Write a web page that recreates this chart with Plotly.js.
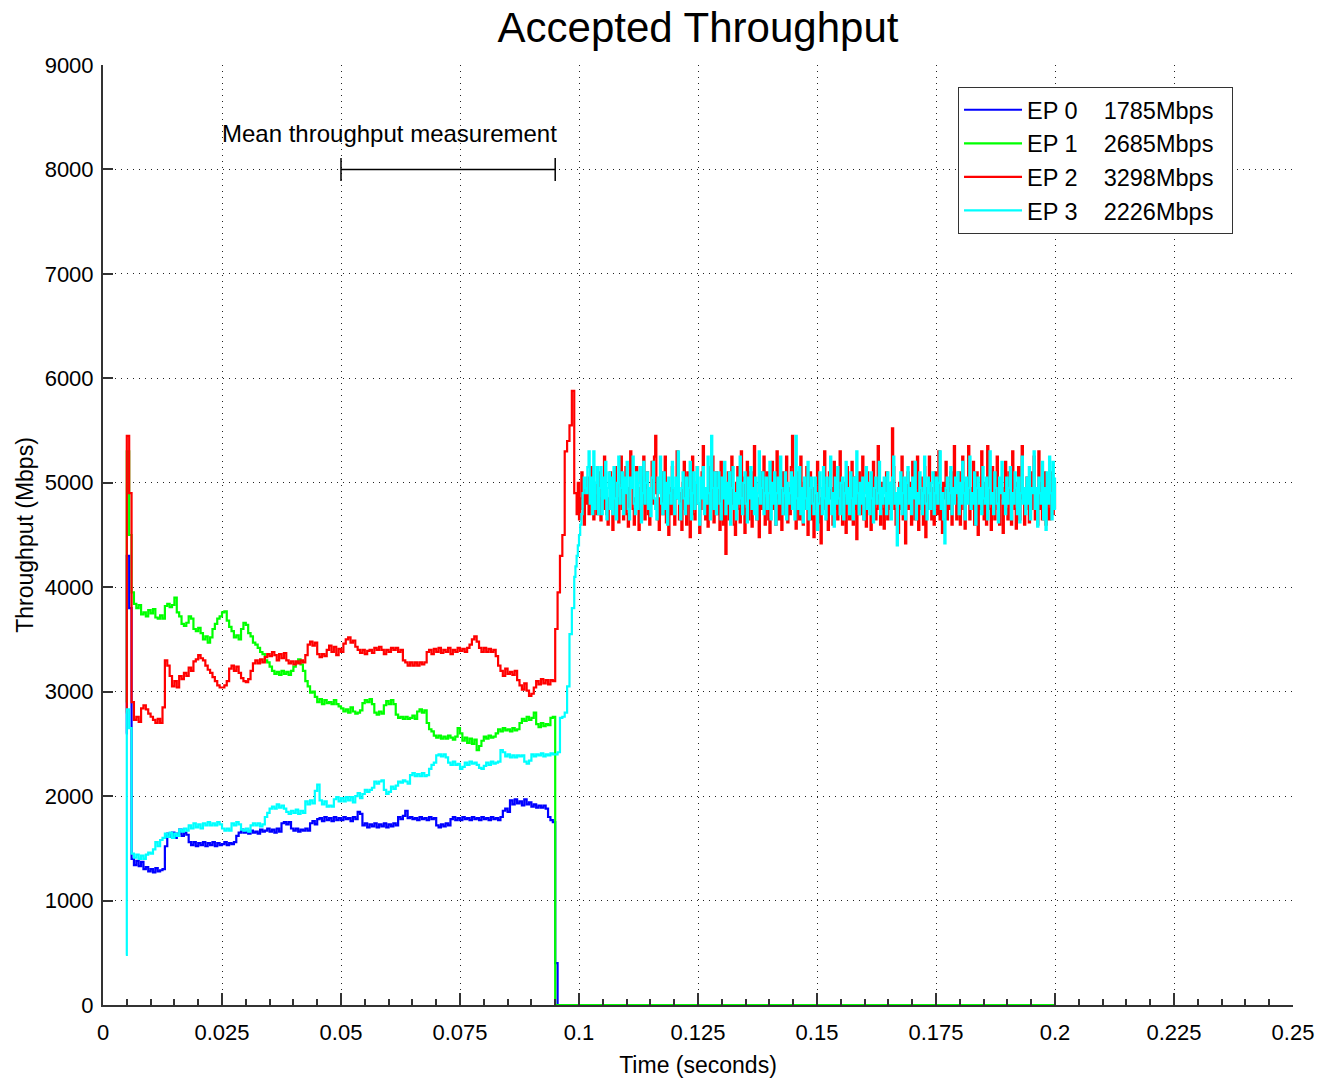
<!DOCTYPE html>
<html><head><meta charset="utf-8">
<script src="https://cdn.plot.ly/plotly-3.0.1.min.js"></script>
<style>html,body{margin:0;padding:0;background:#fff;}#chart{width:1318px;height:1080px;}</style>
</head><body><div id="chart"></div>
<script>
const seriesNames = ['EP 0', 'EP 1', 'EP 2', 'EP 3'];
const meanRates = ['1785Mbps', '2685Mbps', '3298Mbps', '2226Mbps'];
const seriesColors = ['#0000ff', '#00ff00', '#ff0000', '#00ffff'];

// sample clocks: one sample just before start, a 0.5 ms clock up to ~0.099 s, then a 0.25 ms clock to 0.2 s
const preTime = 0.0048;
const earlyStart = 0.005, earlyStep = 0.0005, earlyCount = 189;
const lateStart = 0.09925, lateStep = 0.00025, lateCount = 404;
const endTime = 0.2;

// EP 0 (blue) – drops to zero after ~0.095 s
const ep0 = [2600,
 4300,3800,1400,1340,1380,1330,1370,1300,1320,1280,
 1300,1270,1310,1280,1290,1300,1520,1640,1610,1650,
 1600,1640,1680,1620,1650,1630,1560,1530,1560,1520,
 1550,1530,1560,1520,1550,1530,1560,1520,1550,1530,
 1540,1560,1530,1550,1540,1560,1620,1650,1680,1650,
 1660,1640,1670,1650,1660,1640,1680,1660,1670,1690,
 1660,1680,1650,1690,1660,1740,1750,1730,1750,1690,
 1670,1690,1660,1680,1670,1690,1670,1740,1760,1730,
 1780,1790,1760,1800,1770,1790,1760,1800,1770,1790,
 1770,1800,1780,1790,1760,1800,1780,1850,1830,1720,
 1740,1700,1730,1710,1740,1700,1730,1710,1740,1700,
 1730,1710,1740,1720,1800,1780,1810,1860,1790,1800,
 1780,1790,1770,1800,1780,1790,1770,1800,1780,1790,
 1720,1700,1730,1710,1740,1720,1780,1800,1770,1790,
 1770,1800,1780,1790,1770,1800,1780,1790,1770,1800,
 1780,1790,1770,1800,1780,1790,1770,1800,1860,1880,
 1850,1960,1920,1970,1930,1950,1910,1970,1920,1940,
 1900,1920,1890,1910,1890,1910,1880,1800,1770,1750,
 400,0];
const ep0Tail = 0;

// EP 1 (green) – drops to zero after ~0.095 s
const ep1 = [2900,
 5300,4500,3950,3840,3800,3830,3740,3760,3720,3780,
 3750,3790,3710,3700,3730,3700,3820,3840,3810,3830,
 3900,3760,3720,3650,3630,3660,3720,3700,3600,3580,
 3610,3560,3500,3530,3470,3520,3600,3650,3700,3720,
 3760,3770,3680,3620,3580,3520,3540,3500,3600,3660,
 3640,3560,3530,3470,3450,3420,3380,3360,3300,3280,
 3240,3200,3170,3190,3160,3200,3170,3190,3160,3200,
 3240,3280,3310,3260,3200,3100,3050,2990,3000,2950,
 2900,2930,2880,2920,2890,2900,2880,2920,2880,2860,
 2840,2810,2830,2800,2850,2810,2790,2800,2820,2890,
 2920,2900,2930,2880,2800,2780,2810,2790,2870,2910,
 2880,2920,2880,2780,2750,2760,2740,2760,2740,2750,
 2770,2740,2810,2830,2800,2820,2700,2640,2620,2580,
 2560,2580,2550,2570,2550,2580,2560,2540,2570,2650,
 2600,2530,2560,2510,2550,2500,2540,2440,2480,2530,
 2570,2550,2580,2560,2570,2600,2640,2620,2650,2630,
 2640,2620,2650,2630,2640,2700,2740,2720,2760,2730,
 2750,2800,2690,2660,2700,2670,2690,2680,2750,2760,
 0];
const ep1Tail = 0;

// EP 2 (red): pre-sample, 0.5 ms clock, then 0.25 ms clock
const ep2 = [2800,
 5450,4900,2900,2730,2760,2710,2840,2870,2830,2790,
 2760,2730,2700,2740,2700,2850,3300,3250,3150,3050,
 3100,3040,3150,3120,3180,3150,3230,3200,3290,3310,
 3350,3320,3300,3250,3210,3180,3140,3100,3060,3040,
 3040,3060,3100,3220,3250,3200,3240,3180,3130,3100,
 3090,3120,3200,3270,3300,3270,3310,3280,3330,3360,
 3340,3380,3350,3300,3360,3320,3370,3300,3270,3290,
 3260,3290,3270,3300,3280,3350,3450,3480,3440,3470,
 3360,3330,3360,3340,3400,3440,3380,3430,3350,3410,
 3380,3460,3500,3520,3470,3490,3430,3400,3370,3400,
 3360,3390,3400,3370,3420,3400,3430,3400,3360,3400,
 3380,3420,3400,3420,3380,3400,3300,3280,3250,3280,
 3250,3280,3250,3280,3260,3280,3380,3400,3360,3410,
 3380,3420,3370,3400,3380,3420,3360,3400,3380,3420,
 3390,3410,3380,3420,3450,3500,3530,3480,3420,3380,
 3420,3380,3410,3380,3400,3340,3250,3200,3150,3220,
 3170,3190,3160,3200,3110,3060,3020,3080,3010,2960,
 2980,3040,3100,3070,3120,3080,3110,3070,3110,3100,
 3600,3950,4300,4500,5300,5400,5550,5880,4900,
 4900,4700,5000,4650,4850,5100,4750,4600,4950,4800,5050,4700,4850,5150,4750,4650,5000,4880,4700,5100,
 4850,4640,5000,4750,5250,4900,4700,4600,4850,5100,4750,4550,4950,5150,4700,4850,4620,5000,5250,4750,
 4650,4900,5150,4700,4580,4950,5300,5000,4750,4600,4850,5150,4950,4550,4750,5050,4800,5250,4650,4950,
 5100,4700,4600,4950,5200,4800,5250,5450,4900,4650,4550,4850,5100,4700,5000,5250,4620,4850,4500,4950,
 4700,5150,4900,4600,4850,5300,5050,4650,4900,4550,5000,5200,4750,4600,5100,4850,4480,4950,5250,4700,
 4650,5000,5150,4800,4520,4750,5100,5350,4900,4650,4850,4580,5150,4750,5000,5250,4620,4850,5100,4700,
 4950,4550,5200,4850,4600,5000,4320,4750,5100,4650,4950,5250,4800,4600,4500,5000,5150,4750,4620,5300,
 4850,5050,4520,4750,5200,4650,4950,5100,4580,4850,5350,5000,4650,4850,4480,5100,4750,4950,5250,4600,
 4850,5100,4650,4520,4950,5200,4750,5050,4600,5300,4850,4650,5000,4550,5100,4850,4700,5250,4620,4950,
 4700,5150,5450,4950,4750,4560,5100,4850,4650,5250,4950,4600,5000,4750,5150,4500,4850,5100,4650,4950,
 4480,4750,5000,5200,4620,4850,4420,4950,4750,5300,5000,4650,4550,5100,4850,4950,4600,5200,4750,5050,
 4650,4950,5300,4750,4600,5000,4850,4520,5150,4950,4650,4850,5200,4600,4750,5050,4460,4850,5100,4700,
 4950,5250,4650,4850,4580,5100,4750,5000,4550,4850,5200,4950,4650,4750,5350,4850,4600,5000,4750,4560,
 4850,5100,4650,4950,4750,5000,5520,5150,4750,4600,4850,4520,5000,4750,5250,4650,4950,4420,4850,5100,
 4750,5000,4600,5200,4850,4650,4950,5250,4550,4850,5050,4750,4600,5150,4480,4950,4750,5250,4850,4650,
 4950,4600,5100,4850,4700,5300,4650,4950,4520,5000,4850,5200,4650,4950,4750,5100,4600,4850,5350,4900,
 4650,4850,5100,4600,4950,5250,4750,4560,5000,4850,5350,4650,4950,4750,5200,4600,4850,5100,4500,4950,
 4750,5300,4850,4650,5000,4600,5350,4950,4750,4550,5150,4850,4650,4950,5250,4750,4600,5000,4850,4520,
 4950,5200,4750,4650,5100,4850,4600,5300,4950,4750,4560,5000,5150,4650,4850,5350,4950,4600,4750,5050,
 4850,4620,5100,4750,4950,5250,4650,4850,4600,5300,4750,5000,4650,4850,5100,4600,4950,4750,4650,5100,
 4850,4700,5000,4750];

// EP 3 (cyan): pre-sample, 0.5 ms clock, then 0.25 ms clock
const ep3 = [480,
 2830,2650,1450,1410,1440,1400,1430,1400,1440,1460,
 1450,1490,1560,1520,1580,1600,1640,1610,1650,1600,
 1640,1620,1680,1660,1690,1670,1720,1690,1740,1700,
 1730,1690,1740,1720,1750,1720,1740,1720,1750,1730,
 1690,1670,1690,1670,1740,1720,1750,1730,1680,1670,
 1690,1660,1720,1740,1720,1740,1710,1730,1800,1840,
 1880,1900,1880,1920,1890,1910,1880,1850,1830,1860,
 1840,1870,1830,1860,1840,1950,1920,1960,1930,2050,
 2110,1960,1920,1950,1900,1910,1900,1970,1990,1950,
 1980,1950,1990,1960,1990,1940,2000,2030,1980,2020,
 2060,2040,2060,2080,2140,2120,2140,2150,2060,2020,
 2040,2090,2070,2100,2140,2130,2150,2140,2120,2200,
 2220,2190,2210,2190,2220,2190,2200,2260,2300,2320,
 2390,2400,2380,2400,2370,2320,2300,2330,2300,2310,
 2260,2280,2320,2300,2330,2310,2320,2300,2270,2260,
 2290,2320,2300,2330,2310,2320,2330,2440,2420,2380,
 2400,2370,2390,2370,2390,2380,2390,2330,2310,2340,
 2400,2380,2400,2390,2410,2380,2400,2390,2410,2400,
 2400,2420,2750,2760,2800,3050,3550,3800,4100,
 4200,4300,4400,4500,4600,4700,4900,5050,4950,4900,5150,5300,4800,5050,4700,5300,4750,5000,5150,4700,
 4950,5150,4700,5050,4850,5200,4650,4950,5100,4750,5050,4700,5150,4850,4650,5000,5250,4800,4950,5100,
 4700,5050,4900,5200,4750,4650,5050,4950,5250,4800,4700,5100,4750,5000,5150,4620,4900,5200,4800,5000,
 5100,4750,4950,4680,5050,5200,4850,4750,4650,5050,4900,5250,4800,4700,5100,4750,5000,4600,5050,4900,
 4800,5200,4950,4700,5050,4850,5300,4800,4650,4950,5100,4850,4700,5050,4800,4950,5200,4650,4900,5100,
 4750,5000,5150,4800,4600,5050,4850,5150,4700,4950,4800,5250,4900,4650,5450,4950,4750,5100,4700,4950,
 5100,4800,4650,5050,4850,5200,4700,5000,4800,5100,4600,4950,5150,4750,4900,4650,5050,4800,5250,4850,
 4700,5000,5100,4800,4620,5050,4850,5150,4750,4950,4700,5050,4650,4900,5300,4800,4950,5100,4700,4900,
 5050,4750,4900,5200,4650,5000,4800,5100,4600,4900,5050,4800,5250,4950,4700,4900,5100,4650,5000,4800,
 4900,5100,4750,5050,4650,5450,4850,4750,5150,4700,4950,4620,5050,4850,4750,5200,4650,4950,5050,4800,
 4700,5050,4900,4550,4800,5100,4950,4700,5150,4850,4650,5050,4800,4950,5250,4700,4900,4580,5050,4800,
 5150,4850,4700,5000,5050,4650,4900,5200,4800,4950,4700,5100,4850,4650,5050,4800,5300,4900,4700,5000,
 4800,5050,4650,4900,5150,4750,5000,4700,5100,4850,4620,4950,5050,4800,4900,5200,4700,4950,4800,5050,
 4900,4700,5100,4800,5000,4650,5050,5250,4800,4900,4400,4950,4800,5100,4700,4900,5050,4650,5000,5150,
 4800,4950,4700,5050,4850,5200,4650,4900,4800,5100,4950,4700,4900,5250,4800,4650,5050,4900,4750,5000,
 5100,4700,4900,5050,4800,5000,5300,4750,4900,4650,4420,4950,5050,4800,4900,5150,4700,4950,4800,5050,
 4900,5100,4700,5000,4800,5200,4900,4650,5050,4800,4950,5250,4750,4900,4800,5100,4600,4950,5050,4800,
 4950,4700,5150,4850,4800,5050,4650,4950,5300,4800,4900,4700,5100,4950,4800,4620,5050,4900,5200,4800,
 4900,4700,5050,4800,4950,5150,4650,4900,4800,5100,4950,4700,5050,4620,4900,5250,4800,4950,4700,5050,
 4800,5150,4650,4950,4900,5300,4750,4950,4580,5050,4900,4800,5200,4650,4950,4550,5100,4800,5250,4900,
 4650,5200,4750,5050];

const xTickVals = [0, 0.025, 0.05, 0.075, 0.1, 0.125, 0.15, 0.175, 0.2, 0.225, 0.25];
const xTickText = ['0', '0.025', '0.05', '0.075', '0.1', '0.125', '0.15', '0.175', '0.2', '0.225', '0.25'];
const yTickVals = [0, 1000, 2000, 3000, 4000, 5000, 6000, 7000, 8000, 9000];
const yTickText = ['0', '1000', '2000', '3000', '4000', '5000', '6000', '7000', '8000', '9000'];

// measurement-window annotation
const measureStart = 0.05, measureEnd = 0.095, measureLevel = 8000, measureBarLow = 7890, measureBarHigh = 8110;
const measureLabel = 'Mean throughput measurement', labelTime = 0.0601, labelLevel = 8340;

const times = [preTime];
for (let k = 0; k < earlyCount; k++) times.push(+(earlyStart + k * earlyStep).toFixed(5));
for (let k = 0; k < lateCount; k++) times.push(+(lateStart + k * lateStep).toFixed(5));

const NB = '\u00a0';
function legendName(i) { return seriesNames[i] + NB.repeat(4) + meanRates[i] + NB.repeat(2); }

const seriesData = [
  {x: times.slice(0, ep0.length).concat([endTime]), y: ep0.concat([ep0Tail])},
  {x: times.slice(0, ep1.length).concat([endTime]), y: ep1.concat([ep1Tail])},
  {x: times.slice(0, ep2.length), y: ep2},
  {x: times.slice(0, ep3.length), y: ep3}
];

const traces = seriesData.map((d, i) => ({
  type: 'scatter', mode: 'lines', x: d.x, y: d.y,
  name: legendName(i), legendgroup: 'g' + i,
  line: {color: seriesColors[i], width: 2.2, shape: 'hv'},
  hoverinfo: 'skip'
}));

const axisColor = '#333';
const fontFam = '"Liberation Sans", Arial, Helvetica, sans-serif';

const layout = {
  width: 1318, height: 1080,
  margin: {l: 103, r: 25, t: 65, b: 75},
  paper_bgcolor: '#fff', plot_bgcolor: '#fff',
  font: {family: fontFam, color: '#000', size: 22},
  title: {text: 'Accepted Throughput', font: {size: 42, family: fontFam, color: '#000'},
          x: 0.5, xref: 'paper', xanchor: 'center', y: 0.975, yref: 'container', yanchor: 'middle'},
  showlegend: true,
  legend: {x: 0.7185, y: 0.9766, xanchor: 'left', yanchor: 'top',
           bgcolor: '#fff', bordercolor: axisColor, borderwidth: 1,
           font: {size: 23.5, family: fontFam, color: '#000'},
           traceorder: 'grouped', tracegroupgap: 0, itemwidth: 58},
  xaxis: {
    range: [0, 0.25], tickvals: xTickVals, ticktext: xTickText,
    ticks: 'inside', ticklen: 12, tickwidth: 1.5, tickcolor: axisColor,
    showline: true, linecolor: axisColor, linewidth: 2, mirror: false,
    showgrid: true, gridcolor: '#222', gridwidth: 1, griddash: '1px,5px',
    zeroline: false, tickfont: {size: 22}, ticklabelstandoff: 7,
    minor: {dtick: 0.005, tick0: 0, ticks: 'inside', ticklen: 6, tickwidth: 1.5, tickcolor: axisColor, showgrid: false},
    title: {text: 'Time (seconds)', font: {size: 23}, standoff: 12}
  },
  yaxis: {
    range: [0, 9000], tickvals: yTickVals, ticktext: yTickText,
    ticks: 'inside', ticklen: 10, tickwidth: 1.5, tickcolor: axisColor,
    showline: true, linecolor: axisColor, linewidth: 2, mirror: false,
    showgrid: true, gridcolor: '#222', gridwidth: 1, griddash: '1px,5px',
    zeroline: false, tickfont: {size: 22}, ticklabelstandoff: 3,
    title: {text: 'Throughput (Mbps)', font: {size: 23}, standoff: 5}
  },
  annotations: [{
    x: labelTime, y: labelLevel, xref: 'x', yref: 'y', text: measureLabel,
    showarrow: false, font: {size: 24, color: '#000'}, xanchor: 'center', yanchor: 'middle'
  }],
  shapes: [
    {type: 'line', xref: 'x', yref: 'y', x0: measureStart, x1: measureEnd, y0: measureLevel, y1: measureLevel, line: {color: '#000', width: 1.5}},
    {type: 'line', xref: 'x', yref: 'y', x0: measureStart, x1: measureStart, y0: measureBarLow, y1: measureBarHigh, line: {color: '#000', width: 1.5}},
    {type: 'line', xref: 'x', yref: 'y', x0: measureEnd, x1: measureEnd, y0: measureBarLow, y1: measureBarHigh, line: {color: '#000', width: 1.5}}
  ]
};

Plotly.newPlot('chart', traces, layout, {displayModeBar: false, responsive: false});
</script>
</body></html>
